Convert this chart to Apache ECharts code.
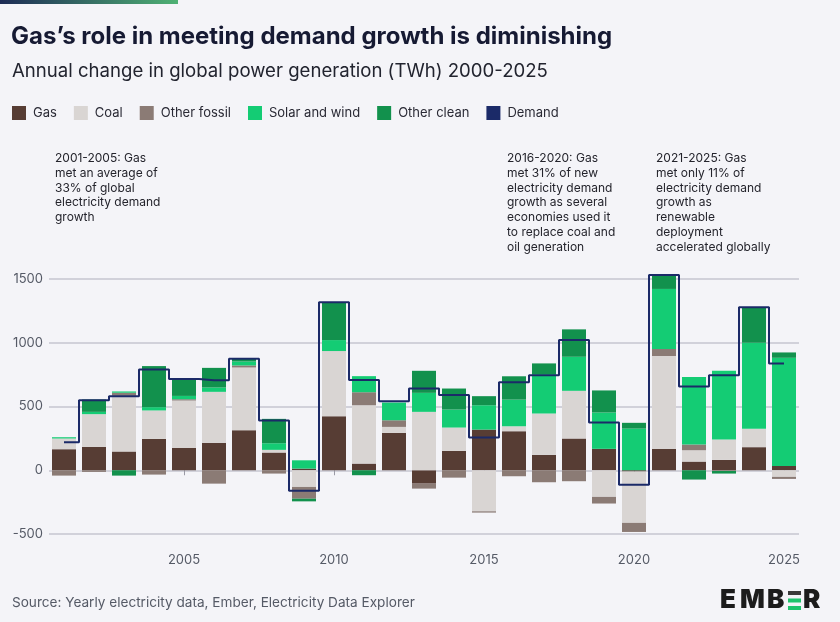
<!DOCTYPE html>
<html>
<head>
<meta charset="utf-8">
<title>Gas's role in meeting demand growth</title>
<script src="https://cdn.jsdelivr.net/npm/echarts@6/dist/echarts.min.js"></script>
<style>
  html, body { margin: 0; padding: 0; background: #f4f4f8; }
  #chart { width: 840px; height: 622px; }
</style>
</head>
<body>
<div id="chart"></div>
<script>
const years = ['2001', '2002', '2003', '2004', '2005', '2006', '2007', '2008', '2009', '2010',
  '2011', '2012', '2013', '2014', '2015', '2016', '2017', '2018', '2019', '2020',
  '2021', '2022', '2023', '2024', '2025'];

// TWh change year on year
const gas = [165, 183, 147, 246, 175, 215, 314, 139, 13, 424, 52, 293, -105, 152, 319, 306, 120, 249, 168, -10, 168, 68, 81, 181, 34];
const coal = [84, 257, 437, 223, 372, 400, 492, 21, -131, 511, 458, 47, 458, 183, -322, 39, 325, 374, -209, -403, 728, 89, 160, 144, -52];
const otherFossil = [-42, -13, 24, -34, 10, -105, 16, -26, -92, 0, 102, 52, -39, -58, -10, -47, -94, -86, -52, -71, 55, 45, -6, 0, -16];
const solarWind = [10, 18, 10, 26, 26, 34, 31, 52, 65, 86, 126, 139, 149, 141, 191, 209, 309, 267, 285, 327, 471, 529, 539, 675, 848];
const otherClean = [0, 97, -42, 322, 128, 154, 21, 191, -21, 296, -39, 0, 173, 165, 71, 183, 84, 215, 173, 45, 105, -73, -20, 278, 42];
const demand = [220, 550, 580, 790, 715, 705, 874, 390, -160, 1317, 707, 542, 641, 590, 257, 691, 746, 1021, 374, -113, 1531, 657, 746, 1278, 838];

const yTicks = { min: -500, max: 1500, step: 500 };

const notes = [
  { x: 55, lines: ['2001-2005: Gas', 'met an average of', '33% of global', 'electricity demand', 'growth'] },
  { x: 507, lines: ['2016-2020: Gas', 'met 31% of new', 'electricity demand', 'growth as several', 'economies used it', 'to replace coal and', 'oil generation'] },
  { x: 656, lines: ['2021-2025: Gas', 'met only 11% of', 'electricity demand', 'growth as', 'renewable', 'deployment', 'accelerated globally'] },
];

const COLORS = {
  gas: '#573d34',
  coal: '#d9d5d3',
  otherFossil: '#8b7b75',
  solarWind: '#14cc74',
  otherClean: '#12914d',
  demand: '#1b2a68',
};

const FONT = 'Inter, "Noto Sans", sans-serif';
const fifth = (index, value) => Number(value) % 5 === 0;

const barSeries = (name, data, color) => ({
  name,
  type: 'bar',
  stack: 'total',
  data,
  barWidth: 24,
  clip: false,
  itemStyle: { color },
  emphasis: { disabled: true },
});

// logo letters placed one by one, the logo is set wide
const logoLetter = (char, x) => ({
  type: 'text',
  left: x,
  top: 587,
  style: { text: char, font: `900 26px ${FONT}`, fill: '#1c1c1c' },
});

const chart = echarts.init(document.getElementById('chart'), null, { renderer: 'canvas' });
chart.setOption({
  backgroundColor: '#f4f4f8',
  animation: false,
  textStyle: { fontFamily: FONT },
  legend: {
    left: 12,
    top: 106,
    padding: 0,
    itemWidth: 14,
    itemHeight: 14,
    itemGap: 17,
    icon: 'rect',
    textStyle: { color: '#2a2a35', fontSize: 13, fontFamily: FONT, padding: [0, 0, 0, 2] },
    data: ['Gas', 'Coal', 'Other fossil', 'Solar and wind', 'Other clean', 'Demand'],
  },
  grid: { left: 49, right: 41, top: 279, bottom: 88 },
  xAxis: {
    type: 'category',
    data: years,
    offset: 13,
    axisLine: { show: false },
    axisTick: { show: true, alignWithLabel: true, interval: fifth, length: 5, lineStyle: { color: '#9a9aa5' } },
    axisLabel: { interval: fifth, color: '#555a66', fontSize: 13, margin: 7, fontFamily: FONT },
  },
  yAxis: {
    type: 'value',
    min: yTicks.min,
    max: yTicks.max,
    interval: yTicks.step,
    axisLine: { show: false },
    axisTick: { show: false },
    axisLabel: { color: '#555a66', fontSize: 13, margin: 6, fontFamily: FONT, formatter: (v) => String(v) },
    splitLine: { lineStyle: { color: '#c6c6d0', width: 1.5 } },
  },
  series: [
    barSeries('Gas', gas, COLORS.gas),
    barSeries('Coal', coal, COLORS.coal),
    barSeries('Other fossil', otherFossil, COLORS.otherFossil),
    barSeries('Solar and wind', solarWind, COLORS.solarWind),
    barSeries('Other clean', otherClean, COLORS.otherClean),
    {
      name: 'Demand',
      type: 'line',
      step: 'middle',
      data: demand,
      clip: false,
      symbol: 'none',
      z: 5,
      lineStyle: { color: COLORS.demand, width: 2 },
      itemStyle: { color: COLORS.demand },
      emphasis: { disabled: true },
    },
  ],
  graphic: [
    {
      type: 'rect',
      shape: { x: 0, y: 0, width: 178, height: 4 },
      style: {
        fill: new echarts.graphic.LinearGradient(0, 0, 1, 0, [
          { offset: 0, color: '#1d2b55' },
          { offset: 1, color: '#4fb174' },
        ]),
      },
    },
    {
      type: 'text',
      left: 11,
      top: 25,
      style: { text: 'Gas’s role in meeting demand growth is diminishing', font: `bold 24px ${FONT}`, fill: '#161a33' },
    },
    {
      type: 'text',
      left: 12,
      top: 62,
      style: { text: 'Annual change in global power generation (TWh) 2000-2025', font: `18.6px ${FONT}`, fill: '#22242f' },
    },
    ...notes.map((note) => ({
      type: 'text',
      left: note.x,
      top: 151,
      style: { text: note.lines.join('\n'), font: `12px ${FONT}`, lineHeight: 14.8, fill: '#24242c' },
    })),
    {
      type: 'text',
      left: 12,
      top: 596,
      style: { text: 'Source: Yearly electricity data, Ember, Electricity Data Explorer', font: `13.6px ${FONT}`, fill: '#555a66' },
    },
    logoLetter('E', 720),
    logoLetter('M', 740),
    logoLetter('B', 767),
    { type: 'rect', shape: { x: 788, y: 591, width: 13, height: 4 }, style: { fill: '#3a3a3a' } },
    { type: 'rect', shape: { x: 788, y: 598.5, width: 13, height: 4 }, style: { fill: '#1fc46d' } },
    { type: 'rect', shape: { x: 788, y: 606, width: 13, height: 4 }, style: { fill: '#1fc46d' } },
    logoLetter('R', 803),
  ],
});

window.addEventListener('resize', () => chart.resize());
</script>
</body>
</html>
